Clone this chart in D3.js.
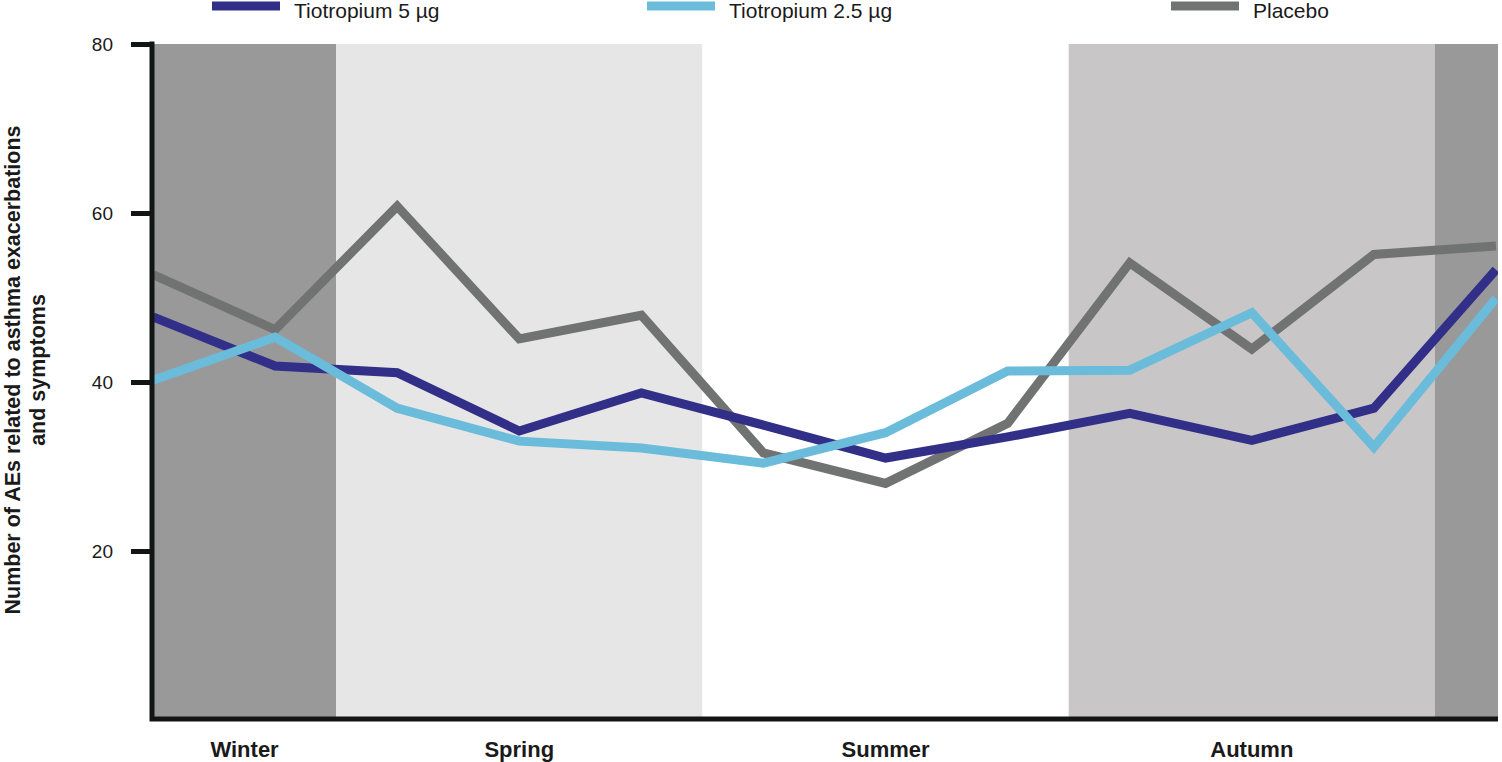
<!DOCTYPE html>
<html>
<head>
<meta charset="utf-8">
<script src="https://cdn.jsdelivr.net/npm/d3@7"></script>
<style>
	body { margin: 0; background: #fff; }
	svg { display: block; font-family: 'Liberation Sans', Arial, sans-serif; }
	.y-axis text { font-size: 19px; fill: #1a1a1a; }
	.season { font-size: 22px; font-weight: bold; fill: #1a1a1a; }
	.legend text { font-size: 21px; fill: #1a1a1a; }
</style>
</head>
<body>
<div id="chart"></div>
<script>
// months Jan..Dec (index 0..11)
const months = ['Jan', 'Feb', 'Mar', 'Apr', 'May', 'Jun', 'Jul', 'Aug', 'Sep', 'Oct', 'Nov', 'Dec']
const tio5 = [47.7, 41.9, 41.1, 34.2, 38.7, 34.9, 31.0, 33.5, 36.3, 33.1, 36.9, 53.3]
const tio25 = [40.2, 45.3, 36.9, 33.0, 32.2, 30.4, 34.0, 41.3, 41.4, 48.2, 32.3, 49.9]
const placebo = [52.7, 46.2, 60.8, 45.1, 47.9, 31.6, 28.0, 35.1, 54.1, 43.9, 55.1, 56.1]
const yTicks = [20, 40, 60, 80]
// season bands in month units (-1 / 12 mean "to the plot edge")
const seasons = ['Winter', 'Spring', 'Summer', 'Autumn', '']
const seasonFrom = [-1, 1.5, 4.5, 7.5, 10.5]
const seasonTo = [1.5, 4.5, 7.5, 10.5, 12]
const seasonFill = ['#999999', '#e6e6e6', '#ffffff', '#c8c6c7', '#999999']
const seriesNames = ['Tiotropium 5 µg', 'Tiotropium 2.5 µg', 'Placebo']
const seriesColors = ['#312f88', '#6bbcdb', '#717372']

const width = 1502
const height = 762
const plotLeft = 153, plotRight = 1498, plotTop = 44, plotBottom = 719

const svg = d3.select('#chart').append('svg')
	.attr('width', width)
	.attr('height', height)

let xScale = d3.scaleLinear().domain([0, 11]).range([plotLeft, 1496])
let yScale = d3.scaleLinear().domain([0, 80]).range([plotBottom + 1, plotTop])

const clamp = v => Math.max(plotLeft, Math.min(plotRight, xScale(v)))

// season backgrounds
svg.append('g')
	.selectAll('rect')
	.data(seasons)
	.join('rect')
	.attr('x', (d, i) => clamp(seasonFrom[i]))
	.attr('width', (d, i) => clamp(seasonTo[i]) - clamp(seasonFrom[i]))
	.attr('y', plotTop)
	.attr('height', plotBottom - plotTop)
	.attr('fill', (d, i) => seasonFill[i])

svg.append('clipPath').attr('id', 'plot-clip')
	.append('rect')
	.attr('x', plotLeft).attr('y', 0)
	.attr('width', plotRight - plotLeft).attr('height', plotBottom)

const lineGenerator = d3.line()
	.x((d, i) => xScale(i))
	.y(d => yScale(d))

svg.append('g')
	.attr('clip-path', 'url(#plot-clip)')
	.selectAll('path')
	.data([placebo, tio5, tio25])
	.join('path')
	.attr('d', d => lineGenerator(d))
	.attr('fill', 'none')
	.attr('stroke', (d, i) => [seriesColors[2], seriesColors[0], seriesColors[1]][i])
	.attr('stroke-width', 9)
	.attr('stroke-linejoin', 'miter')

// y axis
let yAxis = d3.axisLeft(yScale)
	.tickValues(yTicks)
	.tickSize(21)
	.tickSizeOuter(0)
	.tickPadding(18)

const yG = svg.append('g')
	.attr('class', 'y-axis')
	.attr('transform', 'translate(152, 0)')
	.call(yAxis)
yG.select('.domain').remove()
yG.selectAll('.tick line').attr('stroke', '#131414').attr('stroke-width', 5)
yG.selectAll('.tick text').attr('font-family', "'Liberation Sans', Arial, sans-serif").attr('font-size', 19)

// axis frame lines
svg.append('path')
	.attr('d', `M152,${plotTop - 2.5}V${plotBottom}H${plotRight}`)
	.attr('fill', 'none')
	.attr('stroke', '#131414')
	.attr('stroke-width', 5)

// season labels
svg.append('g')
	.selectAll('text')
	.data(seasons.slice(0, 4))
	.join('text')
	.attr('class', 'season')
	.attr('x', (d, i) => (clamp(seasonFrom[i]) + clamp(seasonTo[i])) / 2)
	.attr('y', 757)
	.attr('text-anchor', 'middle')
	.text(d => d)

// y axis title
svg.append('text')
	.attr('transform', 'translate(20, 370) rotate(-90)')
	.attr('text-anchor', 'middle')
	.attr('font-size', 21.5)
	.attr('font-weight', 'bold')
	.attr('fill', '#1a1a1a')
	.selectAll('tspan')
	.data(['Number of AEs related to asthma exacerbations', 'and symptoms'])
	.join('tspan')
	.attr('x', 0)
	.attr('dy', (d, i) => i ? 25 : 0)
	.text(d => d)

// legend
const legendX = [212, 647, 1171]
const legend = svg.append('g').attr('class', 'legend')
	.selectAll('g')
	.data(seriesNames)
	.join('g')
	.attr('transform', (d, i) => `translate(${legendX[i]}, 6)`)
legend.append('line')
	.attr('x1', 0).attr('x2', 68)
	.attr('stroke', (d, i) => seriesColors[i])
	.attr('stroke-width', 9)
legend.append('text')
	.attr('x', 82)
	.attr('y', 12)
	.text(d => d)
</script>
</body>
</html>
